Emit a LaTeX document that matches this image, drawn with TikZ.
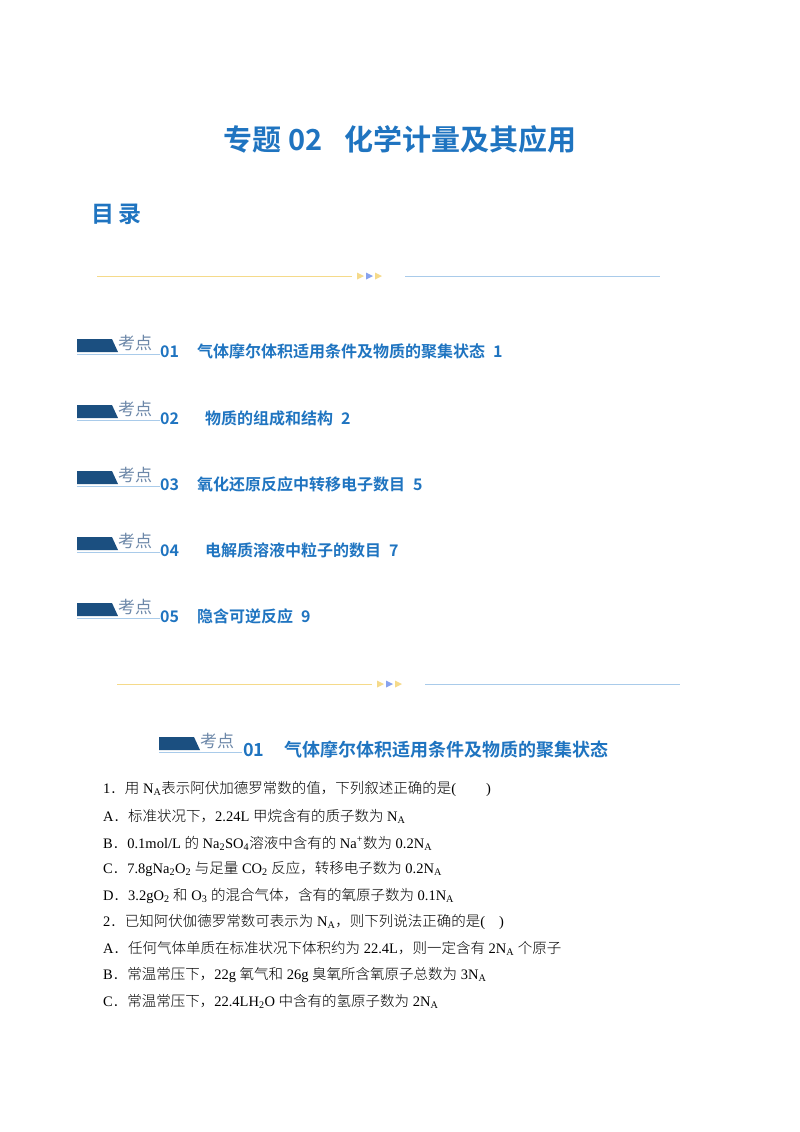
\documentclass[tikz,border=0pt]{standalone}
\usepackage{fontspec}
\setmainfont{Liberation Serif}
\newfontfamily\cjk{Noto Sans CJK SC}
\newfontfamily\cjkb{Noto Sans CJK SC Bold}
\newfontfamily\cjkr{Noto Sans CJK SC Light}
\definecolor{hblue}{HTML}{1F74C0}
\definecolor{bdark}{HTML}{1B4F80}
\definecolor{ylw}{HTML}{F5DA8A}
\definecolor{lblue}{HTML}{A9CBEA}
\definecolor{kd}{HTML}{6C87A8}
\tikzset{
 head/.style={anchor=west,text=hblue,font=\cjkb\fontsize{16}{18}\selectfont,inner sep=0},
 body/.style={anchor=west,font=\fontsize{14.5}{16}\selectfont,inner sep=0}
}
\newcommand{\dt}{{\cjkr ．}}
\newcommand{\badge}[2]{%
 \fill[bdark] (#1-3,#2-7) -- (#1+32,#2-7) -- (#1+38,#2+6) -- (#1-3,#2+6) -- cycle;
 \draw[lblue,line width=0.6] (#1-3,#2+8) -- (#1+80,#2+8);
 \node[anchor=west,inner sep=0,text=kd,font=\cjk\fontsize{17}{17}\selectfont] at (#1+38,#2-3) {考点};}
\newcommand{\sep}[2]{%
 \draw[ylw,line width=0.8] (#1,#2) -- (#1+255,#2);
 \fill[ylw] (#1+260,#2-3.5) -- (#1+267,#2) -- (#1+260,#2+3.5) -- cycle;
 \fill[lblue!80!blue] (#1+269,#2-3.5) -- (#1+276,#2) -- (#1+269,#2+3.5) -- cycle;
 \fill[ylw] (#1+278,#2-3.5) -- (#1+285,#2) -- (#1+278,#2+3.5) -- cycle;
 \draw[lblue,line width=0.8] (#1+308,#2) -- (#1+563,#2);}
\begin{document}
\begin{tikzpicture}[x=1pt,y=-1pt]
\useasboundingbox (0,0) rectangle (800,1132);
\node[text=hblue,font=\cjkb\fontsize{29}{32}\selectfont] (title) at (400,139) {专题 02\hspace{22pt}化学计量及其应用};
\node[anchor=west,text=hblue,font=\cjkb\fontsize{23}{25}\selectfont] (ml) at (88,214) {目\,录};
\sep{97}{276}
\badge{80}{346}\node[head] (t1) at (160,351) {01\hspace{18pt}气体摩尔体积适用条件及物质的聚集状态\hspace{8pt}1};
\badge{80}{412}\node[head] (t2) at (160,418) {02\hspace{26pt}物质的组成和结构\hspace{8pt}2};
\badge{80}{478}\node[head] (t3) at (160,484) {03\hspace{18pt}氧化还原反应中转移电子数目\hspace{8pt}5};
\badge{80}{544}\node[head] (t4) at (160,550) {04\hspace{26pt}电解质溶液中粒子的数目\hspace{8pt}7};
\badge{80}{610}\node[head] (t5) at (160,616) {05\hspace{18pt}隐含可逆反应\hspace{8pt}9};
\sep{117}{684}
\badge{162}{744}\node[head,font=\cjkb\fontsize{18}{20}\selectfont] (t6) at (243,750) {01\hspace{20pt}气体摩尔体积适用条件及物质的聚集状态};
\node[body] (q1) at (103,789) {1\dt{\cjkr 用} N\textsubscript{A}{\cjkr 表示阿伏加德罗常数的值，下列叙述正确的是}(\hspace{30pt})};
\node[body] (a1) at (103,816) {A\dt{\cjkr 标准状况下，}2.24L {\cjkr 甲烷含有的质子数为} N\textsubscript{A}};
\node[body] (b1) at (103,843) {B\dt 0.1mol/L {\cjkr 的} Na\textsubscript{2}SO\textsubscript{4}{\cjkr 溶液中含有的} Na\textsuperscript{+}{\cjkr 数为} 0.2N\textsubscript{A}};
\node[body] (c1) at (103,869) {C\dt 7.8gNa\textsubscript{2}O\textsubscript{2} {\cjkr 与足量} CO\textsubscript{2} {\cjkr 反应，转移电子数为} 0.2N\textsubscript{A}};
\node[body] (d1) at (103,896) {D\dt 3.2gO\textsubscript{2} {\cjkr 和} O\textsubscript{3} {\cjkr 的混合气体，含有的氧原子数为} 0.1N\textsubscript{A}};
\node[body] (q2) at (103,922) {2\dt{\cjkr 已知阿伏伽德罗常数可表示为} N\textsubscript{A}{\cjkr ，则下列说法正确的是}(\hspace{14pt})};
\node[body] (a2) at (103,948) {A\dt{\cjkr 任何气体单质在标准状况下体积约为} 22.4L{\cjkr ，则一定含有} 2N\textsubscript{A} {\cjkr 个原子}};
\node[body] (b2) at (103,975) {B\dt{\cjkr 常温常压下，}22g {\cjkr 氧气和} 26g {\cjkr 臭氧所含氧原子总数为} 3N\textsubscript{A}};
\node[body] (c2) at (103,1001) {C\dt{\cjkr 常温常压下，}22.4LH\textsubscript{2}O {\cjkr 中含有的氢原子数为} 2N\textsubscript{A}};
\end{tikzpicture}
\end{document}
